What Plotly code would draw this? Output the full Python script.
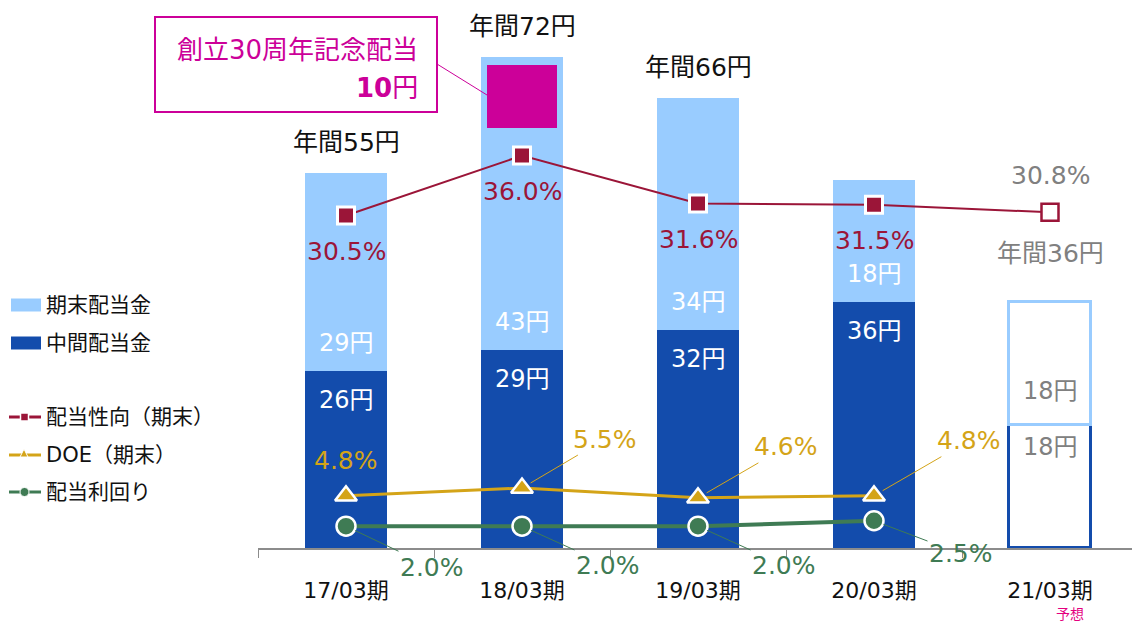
import plotly.graph_objects as go

# ---------------- data ----------------
categories = ["17/03期", "18/03期", "19/03期", "20/03期", "21/03期"]
interim = [26, 29, 32, 36]            # 中間配当金 (actual)
final = [29, 43, 34, 18]              # 期末配当金 (actual)
forecast_interim = [18]               # 21/03 forecast
forecast_final = [18]
commemorative = [10]                  # 創立30周年記念配当 (18/03)
commemorative_cat = ["18/03期"]
annual_show = [True, True, True, False]
payout = [30.5, 36.0, 31.6, 31.5, 30.8]   # 配当性向（期末）
doe = [4.8, 5.5, 4.6, 4.8]                # DOE（期末）
div_yield = [2.0, 2.0, 2.0, 2.5]          # 配当利回り

# ---------------- style ----------------
FONT = "DejaVu Sans, Noto Sans CJK JP, sans-serif"
C_LIGHT = "#99CCFF"
C_DARK = "#134CAC"
C_MAG = "#CC0099"
C_PAY = "#9B1538"
C_DOE = "#D4A418"
C_YLD = "#3F7B54"
C_GRAY = "#808080"
W, H = 1132, 623
ML, MB = 258, 75
PW, PH = W - ML, H - MB
BW = 0.47


def px(x):
    return (x - ML) / PW


def py(y):
    return 1 - y / PH


actual = categories[:4]
totals = [a + b for a, b in zip(interim, final)]
f_total = forecast_interim[0] + forecast_final[0]

fig = go.Figure()

# bars
fig.add_trace(go.Bar(x=actual, y=interim, width=BW, marker=dict(color=C_DARK, line_width=0),
                     name="中間配当金", showlegend=False, hoverinfo="skip"))
fig.add_trace(go.Bar(x=actual, y=final, base=interim, width=BW, marker=dict(color=C_LIGHT, line_width=0),
                     name="期末配当金", showlegend=False, hoverinfo="skip"))
ci = categories.index(commemorative_cat[0])
fig.add_trace(go.Bar(x=commemorative_cat, y=[c - 0.8 for c in commemorative],
                     base=[totals[ci] - commemorative[0] - 0.4], width=0.40,
                     marker=dict(color=C_MAG, line_width=0), showlegend=False, hoverinfo="skip"))
fig.add_trace(go.Bar(x=categories[4:], y=forecast_interim, width=BW,
                     marker=dict(color="white", line=dict(color=C_DARK, width=3)),
                     showlegend=False, hoverinfo="skip"))
fig.add_trace(go.Bar(x=categories[4:], y=forecast_final, base=forecast_interim, width=BW,
                     marker=dict(color="white", line=dict(color=C_LIGHT, width=3)),
                     showlegend=False, hoverinfo="skip"))

# lines (secondary axis)
fig.add_trace(go.Scatter(x=actual, y=div_yield, yaxis="y2", mode="lines+markers",
                         line=dict(color=C_YLD, width=4),
                         marker=dict(symbol="circle", size=19, color=C_YLD, line=dict(color="white", width=2.5)),
                         showlegend=False, hoverinfo="skip"))
fig.add_trace(go.Scatter(x=actual, y=doe, yaxis="y2", mode="lines+markers",
                         line=dict(color=C_DOE, width=3),
                         marker=dict(symbol="triangle-up", size=19, color=C_DOE, line=dict(color="white", width=2.5)),
                         showlegend=False, hoverinfo="skip"))
fig.add_trace(go.Scatter(x=categories, y=payout, yaxis="y2", mode="lines+markers",
                         line=dict(color=C_PAY, width=2),
                         marker=dict(symbol="square", size=17,
                                     color=[C_PAY] * 4 + ["white"],
                                     line=dict(color=["white"] * 4 + [C_PAY], width=[3, 3, 3, 3, 2.5])),
                         showlegend=False, hoverinfo="skip"))

ann = []


def txt(x, y, text, color, size=25, yref="y", yshift=0, xref="x", xanchor="center", **kw):
    d = dict(x=x, y=y, xref=xref, yref=yref, text=text, showarrow=False, yshift=yshift,
             xanchor=xanchor, yanchor="middle", font=dict(family=FONT, size=size, color=color))
    d.update(kw)
    ann.append(d)


# annual totals
for c, t, s in zip(actual, totals, annual_show):
    if s:
        txt(c, t, f"年間{t}円", "#111111", yshift=30)
txt(categories[4], f_total, f"年間{f_total}円", C_GRAY, yshift=49)
# segment labels
for c, a, b in zip(actual, interim, final):
    txt(c, a, f"{a}円", "white", size=24, yshift=-29)
    txt(c, a, f"{b}円", "white", size=24, yshift=28)
txt(categories[4], forecast_interim[0], f"{forecast_interim[0]}円", C_GRAY, size=24, yshift=-22)
txt(categories[4], forecast_interim[0], f"{forecast_final[0]}円", C_GRAY, size=24, yshift=34)
# payout labels
for c, v in zip(actual, payout[:4]):
    txt(c, v, f"{v:.1f}%", C_PAY, yref="y2", yshift=-36)
txt(categories[4], payout[4], f"{payout[4]:.1f}%", C_GRAY, yref="y2", yshift=37)
# DOE labels
txt(actual[0], doe[0], f"{doe[0]:.1f}%", C_DOE, yref="y2", yshift=35)
for c, v, off in zip(actual[1:], doe[1:], [(83, -49), (88, -51), (95, -55)]):
    ann.append(dict(x=c, y=v, xref="x", yref="y2", text=f"{v:.1f}%", showarrow=True,
                    arrowhead=0, arrowwidth=1, arrowcolor=C_DOE, standoff=10,
                    ax=off[0], ay=off[1], font=dict(family=FONT, size=25, color=C_DOE)))
# yield labels
for c, v, off in zip(actual, div_yield, [(86, 41), (86, 39), (86, 39), (87, 33)]):
    ann.append(dict(x=c, y=v, xref="x", yref="y2", text=f"{v:.1f}%", showarrow=True,
                    arrowhead=0, arrowwidth=1, arrowcolor=C_YLD, standoff=10,
                    ax=off[0], ay=off[1], font=dict(family=FONT, size=25, color=C_YLD)))

# callout
txt(px(420), py(50), "創立30周年記念配当", C_MAG, size=26, xref="paper", yref="paper", xanchor="right")
txt(px(420), py(88), "<b>10</b>円", C_MAG, size=26, xref="paper", yref="paper", xanchor="right")
# forecast note
txt(categories[4], py(614), "予想", "#E4007F", size=14, yref="paper", xshift=20)

shapes = [
    dict(type="rect", xref="paper", yref="paper", x0=px(155), x1=px(437), y0=py(112), y1=py(17),
         line=dict(color=C_MAG, width=2), fillcolor="rgba(0,0,0,0)"),
    dict(type="line", xref="paper", yref="paper", x0=px(437), y0=py(64), x1=px(487), y1=py(95),
         line=dict(color=C_MAG, width=1)),
]

# manual legend
leg_items = [("期末配当金", "bar", C_LIGHT, 305), ("中間配当金", "bar", C_DARK, 343),
             ("配当性向（期末）", "square", C_PAY, 417), ("DOE（期末）", "triangle", C_DOE, 455),
             ("配当利回り", "circle", C_YLD, 492)]
for name, kind, col, yy in leg_items:
    if kind == "bar":
        shapes.append(dict(type="rect", xref="paper", yref="paper", x0=px(11), x1=px(41),
                           y0=py(yy + 6.5), y1=py(yy - 6.5), line_width=0, fillcolor=col))
    else:
        shapes.append(dict(type="line", xref="paper", yref="paper", x0=px(9), x1=px(41),
                           y0=py(yy), y1=py(yy), line=dict(color=col, width=3)))
        if kind == "square":
            shapes.append(dict(type="rect", xref="paper", yref="paper", x0=px(20.5), x1=px(28.5),
                               y0=py(yy + 4), y1=py(yy - 4), line=dict(color="white", width=1.5), fillcolor=col))
        elif kind == "triangle":
            shapes.append(dict(type="path", xref="paper", yref="paper",
                               path=f"M {px(20)} {py(yy + 2)} L {px(28)} {py(yy + 2)} L {px(24)} {py(yy - 6)} Z",
                               line=dict(color="white", width=1), fillcolor=col))
        else:
            shapes.append(dict(type="circle", xref="paper", yref="paper", x0=px(20), x1=px(29),
                               y0=py(yy + 4.5), y1=py(yy - 4.5), line=dict(color="white", width=1), fillcolor=col))
    txt(px(44), py(yy), name, "#111111", size=21, xref="paper", yref="paper", xanchor="left")

fig.update_layout(
    width=W, height=H, barmode="overlay", bargap=0,
    margin=dict(l=ML, r=0, t=0, b=MB),
    plot_bgcolor="white", paper_bgcolor="white",
    font=dict(family=FONT, size=22, color="#111111"),
    showlegend=False,
    xaxis=dict(type="category", categoryorder="array", categoryarray=categories,
               range=[-0.5, -0.5 + PW / 176], showgrid=False, showline=True,
               linecolor="#8C8C8C", linewidth=1.5, ticks="outside", tickson="boundaries",
               ticklen=8, tickcolor="#8C8C8C", tickwidth=1,
               tickfont=dict(family=FONT, size=22, color="#111111"), ticklabelstandoff=22),
    yaxis=dict(range=[0, PH / 6.82], visible=False, showgrid=False),
    yaxis2=dict(range=[0, PH / 10.9], overlaying="y", visible=False, showgrid=False),
    annotations=ann, shapes=shapes,
)

fig.write_html("out.html", config={"displayModeBar": False},
               post_script="document.body.style.margin='0px';")
